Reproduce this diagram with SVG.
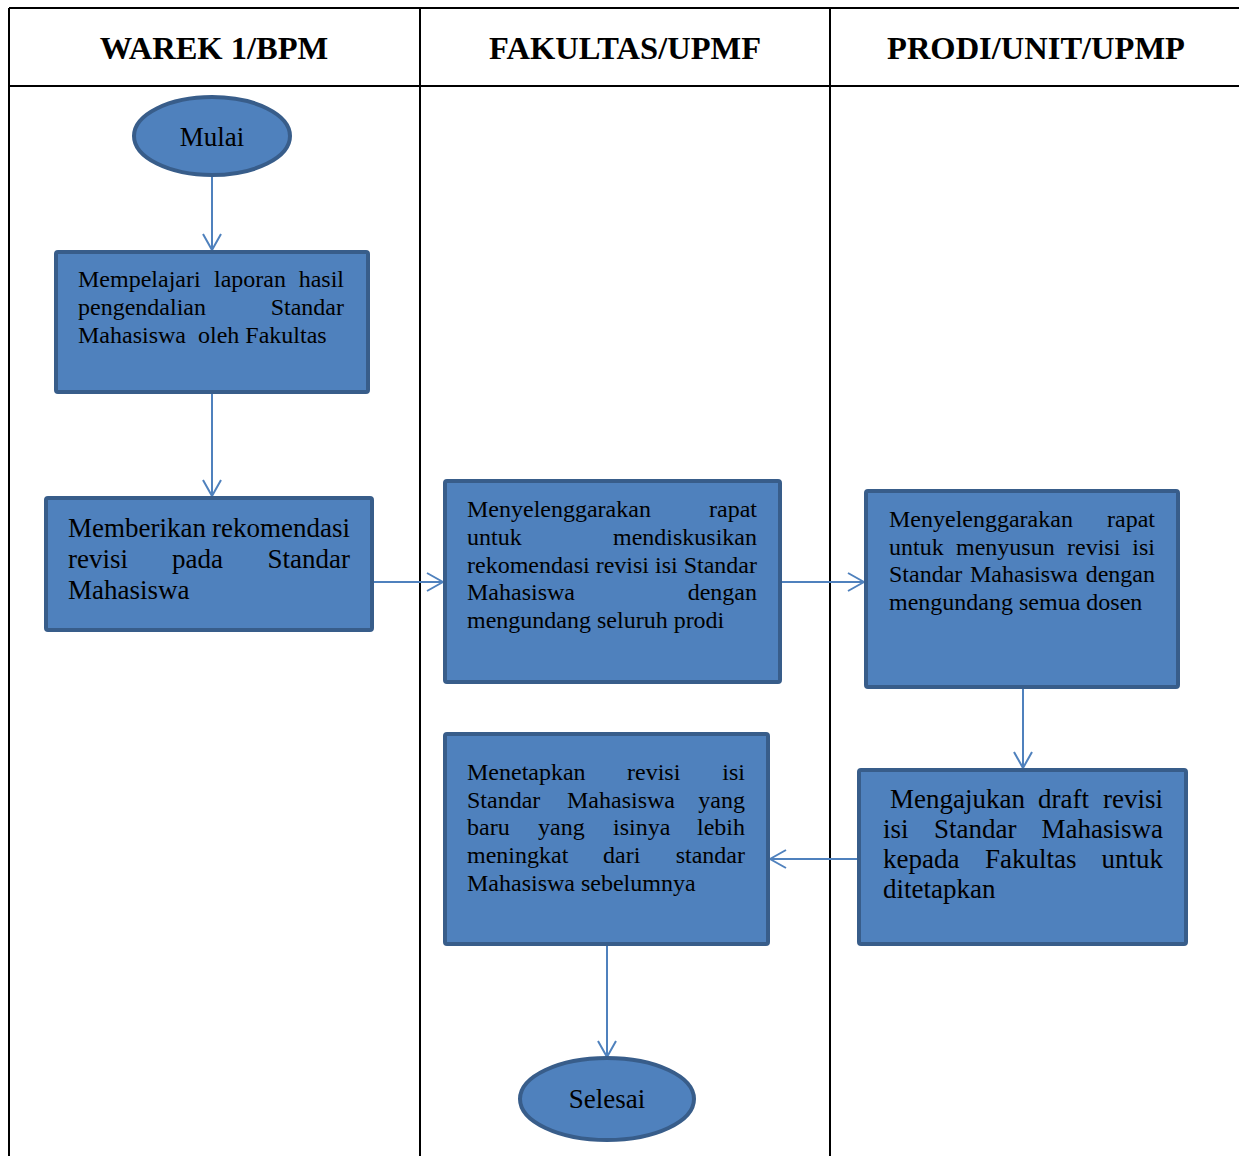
<svg xmlns="http://www.w3.org/2000/svg" width="1239" height="1156" viewBox="0 0 1239 1156">
<style>
.grid{stroke:#000;stroke-width:2;fill:none}
.hd{font-family:"Liberation Serif",serif;font-weight:bold;font-size:32.5px;fill:#000;text-anchor:middle}
.box{fill:#4F81BD;stroke:#385D8A;stroke-width:4}
.t{font-family:"Liberation Serif",serif;font-size:24px;fill:#000}
.t26{font-family:"Liberation Serif",serif;font-size:27px;fill:#000}
.e{text-anchor:end}
.c{text-anchor:middle}
.con{stroke:#4F81BD;stroke-width:2;fill:none;marker-end:url(#ah)}
</style>
<defs>
<marker id="ah" viewBox="0 0 18 20" refX="17" refY="10" markerWidth="18" markerHeight="20" markerUnits="userSpaceOnUse" orient="auto">
<path d="M1,1 L17,10 L1,19" fill="none" stroke="#4F81BD" stroke-width="2"/>
</marker>
</defs>
<rect width="1239" height="1156" fill="#fff"/>
<g id="table">
<path class="grid" d="M9,8 H1239 M9,86 H1239 M9,8 V1156 M420,8 V1156 M830,8 V1156"/>
<text class="hd" x="214" y="59">WAREK 1/BPM</text>
<text class="hd" x="625" y="59">FAKULTAS/UPMF</text>
<text class="hd" x="1036" y="59">PRODI/UNIT/UPMP</text>
</g>
<g id="connectors">
<line class="con" x1="212" y1="175" x2="212" y2="250"/>
<line class="con" x1="212" y1="392" x2="212" y2="496"/>
<line class="con" x1="372" y1="582" x2="443" y2="582"/>
<line class="con" x1="780" y1="582" x2="864" y2="582"/>
<line class="con" x1="1023" y1="687" x2="1023" y2="768"/>
<line class="con" x1="859" y1="859" x2="770" y2="859"/>
<line class="con" x1="607" y1="944" x2="607" y2="1057"/>
</g>
<g id="mulai">
<ellipse class="box" cx="212" cy="136" rx="78" ry="39"/>
<text class="t26 c" x="212" y="146">Mulai</text>
</g>
<g id="mempelajari">
<rect class="box" x="56" y="252" width="312" height="140" rx="2"/>
<text class="t" x="78" y="287">Mempelajari</text>
<text class="t" x="214" y="287">laporan</text>
<text class="t e" x="344" y="287">hasil</text>
<text class="t" x="78" y="315">pengendalian</text>
<text class="t e" x="344" y="315">Standar</text>
<text class="t" x="78" y="343" xml:space="preserve">Mahasiswa  oleh Fakultas</text>
</g>
<g id="memberikan">
<rect class="box" x="46" y="498" width="326" height="132" rx="2"/>
<text class="t26" x="68" y="537">Memberikan</text>
<text class="t26 e" x="350" y="537">rekomendasi</text>
<text class="t26" x="68" y="568">revisi</text>
<text class="t26" x="172" y="568">pada</text>
<text class="t26 e" x="350" y="568">Standar</text>
<text class="t26" x="68" y="599">Mahasiswa</text>
</g>
<g id="menyelenggarakan-fak">
<rect class="box" x="445" y="481" width="335" height="201" rx="2"/>
<text class="t" x="467" y="517">Menyelenggarakan</text>
<text class="t e" x="757" y="517">rapat</text>
<text class="t" x="467" y="545">untuk</text>
<text class="t e" x="757" y="545">mendiskusikan</text>
<text class="t" x="467" y="573" textLength="290" lengthAdjust="spacing">rekomendasi revisi isi Standar</text>
<text class="t" x="467" y="600">Mahasiswa</text>
<text class="t e" x="757" y="600">dengan</text>
<text class="t" x="467" y="628">mengundang seluruh prodi</text>
</g>
<g id="menyelenggarakan-prodi">
<rect class="box" x="866" y="491" width="312" height="196" rx="2"/>
<text class="t" x="889" y="527">Menyelenggarakan</text>
<text class="t e" x="1155" y="527">rapat</text>
<text class="t" x="889" y="555">untuk</text>
<text class="t" x="956" y="555">menyusun</text>
<text class="t" x="1067" y="555">revisi</text>
<text class="t e" x="1155" y="555">isi</text>
<text class="t" x="889" y="582">Standar</text>
<text class="t" x="970" y="582">Mahasiswa</text>
<text class="t e" x="1155" y="582">dengan</text>
<text class="t" x="889" y="610">mengundang semua dosen</text>
</g>
<g id="mengajukan">
<rect class="box" x="859" y="770" width="327" height="174" rx="2"/>
<text class="t26" x="890" y="808">Mengajukan</text>
<text class="t26" x="1038" y="808">draft</text>
<text class="t26 e" x="1163" y="808">revisi</text>
<text class="t26" x="883" y="838">isi</text>
<text class="t26" x="934" y="838">Standar</text>
<text class="t26 e" x="1163" y="838">Mahasiswa</text>
<text class="t26" x="883" y="868">kepada</text>
<text class="t26" x="985" y="868">Fakultas</text>
<text class="t26 e" x="1163" y="868">untuk</text>
<text class="t26" x="883" y="898">ditetapkan</text>
</g>
<g id="menetapkan">
<rect class="box" x="445" y="734" width="323" height="210" rx="2"/>
<text class="t" x="467" y="780">Menetapkan</text>
<text class="t" x="627" y="780">revisi</text>
<text class="t e" x="745" y="780">isi</text>
<text class="t" x="467" y="808">Standar</text>
<text class="t" x="567" y="808">Mahasiswa</text>
<text class="t e" x="745" y="808">yang</text>
<text class="t" x="467" y="835">baru</text>
<text class="t" x="538" y="835">yang</text>
<text class="t" x="613" y="835">isinya</text>
<text class="t e" x="745" y="835">lebih</text>
<text class="t" x="467" y="863">meningkat</text>
<text class="t" x="603" y="863">dari</text>
<text class="t e" x="745" y="863">standar</text>
<text class="t" x="467" y="891">Mahasiswa sebelumnya</text>
</g>
<g id="selesai">
<ellipse class="box" cx="607" cy="1099" rx="87" ry="41"/>
<text class="t26 c" x="607" y="1108">Selesai</text>
</g>
</svg>
